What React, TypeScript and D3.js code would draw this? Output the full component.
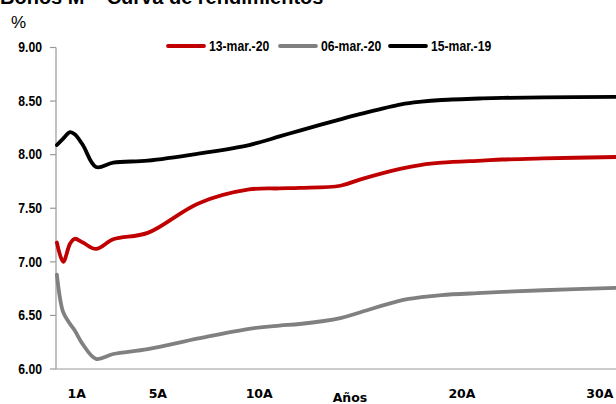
import React from "react";
import * as d3 from "d3";

// Maturities in years (x positions of the curve nodes)
const maturities = [0.02, 0.33, 0.67, 0.9, 1.3, 1.95, 2.8, 4.5, 7, 9.5, 11, 12, 14, 15, 17, 18, 19, 21, 22, 24, 27.6];

// Yields in %, one array per curve date
const mar13_20 = [7.18, 7.0, 7.17, 7.215, 7.18, 7.12, 7.21, 7.27, 7.545, 7.675, 7.685, 7.69, 7.71, 7.77, 7.87, 7.905, 7.925, 7.945, 7.955, 7.965, 7.978];
const mar06_20 = [6.88, 6.53, 6.42, 6.36, 6.23, 6.095, 6.14, 6.185, 6.285, 6.375, 6.405, 6.42, 6.475, 6.53, 6.64, 6.67, 6.69, 6.71, 6.72, 6.735, 6.757];
const mar15_19 = [8.09, 8.15, 8.21, 8.19, 8.09, 7.885, 7.925, 7.945, 8.01, 8.09, 8.17, 8.225, 8.33, 8.38, 8.47, 8.495, 8.51, 8.525, 8.53, 8.535, 8.54];

const seriesNames = ["13-mar.-20", "06-mar.-20", "15-mar.-19"];
const seriesColors = ["#c00000", "#808080", "#000000"];
const seriesValues = [mar13_20, mar06_20, mar15_19];

const yTicks = [6.0, 6.5, 7.0, 7.5, 8.0, 8.5, 9.0];
const xTickLabels = ["1A", "5A", "10A", "20A", "30A"];
const xTickAt = [1, 5, 10, 20, 26.8];

const W = 616;
const H = 404;
const left = 56;
const right = 616;
const top = 47.5;
const bottom = 369;

const sans = "'Liberation Sans', Arial, sans-serif";
const wide = "'DejaVu Sans', Verdana, sans-serif";
// horizontal squeeze giving the condensed look of the labels
const squeeze = 0.87;

export default function App() {
  const x = d3.scaleLinear().domain([0, 27.6]).range([left + 0.5, right]);
  const y = d3.scaleLinear().domain([6, 9]).range([bottom, top]);

  const line = d3
    .line<number>()
    .x((_, i) => x(maturities[i]))
    .y((v) => y(v))
    .curve(d3.curveCatmullRom.alpha(0.5));

  const legendX = [167, 279, 389];

  return (
    <svg
      width={W}
      height={H}
      style={{ position: "absolute", left: 0, top: 0, display: "block", background: "#fff" }}
    >
      <text x={0} y={4} fontFamily={sans} fontWeight="bold" fontSize={20} fill="#000">
        Bonos M – Curva de rendimientos
      </text>
      <text x={11} y={28} fontFamily={sans} fontSize={17} fill="#000">
        %
      </text>

      {/* y axis */}
      <line x1={left} x2={left} y1={top} y2={bottom} stroke="#999" strokeWidth={1.2} />
      {yTicks.map((t) => (
        <g key={t}>
          <line x1={left - 6} x2={left} y1={y(t)} y2={y(t)} stroke="#999" strokeWidth={1.2} />
          <text
            transform={`translate(42,${y(t) + 4.8}) scale(${squeeze},1)`}
            textAnchor="end"
            fontFamily={sans}
            fontWeight="bold"
            fontSize={14}
            fill="#000"
          >
            {t.toFixed(2)}
          </text>
        </g>
      ))}

      {/* x axis */}
      <line x1={left} x2={right} y1={bottom} y2={bottom} stroke="#999" strokeWidth={1.2} />
      {xTickLabels.map((lab, i) => (
        <text
          key={lab}
          x={x(xTickAt[i])}
          y={398}
          textAnchor="middle"
          fontFamily={wide}
          fontWeight="bold"
          fontSize={12.5}
          fill="#000"
        >
          {lab}
        </text>
      ))}
      <text x={350} y={402} textAnchor="middle" fontFamily={wide} fontWeight="bold" fontSize={12.5} fill="#000">
        Años
      </text>

      {/* curves */}
      {seriesValues.map((vals, i) => (
        <path
          key={seriesNames[i]}
          d={line(vals) || ""}
          fill="none"
          stroke={seriesColors[i]}
          strokeWidth={3.8}
          strokeLinejoin="round"
          strokeLinecap="round"
        />
      ))}

      {/* legend */}
      {seriesNames.map((name, i) => (
        <g key={name}>
          <line
            x1={legendX[i] + 1}
            x2={legendX[i] + 37}
            y1={46}
            y2={46}
            stroke={seriesColors[i]}
            strokeWidth={3.8}
            strokeLinecap="round"
          />
          <text
            transform={`translate(${legendX[i] + 42},50.5) scale(${squeeze},1)`}
            fontFamily={sans}
            fontWeight="bold"
            fontSize={14}
            fill="#000"
          >
            {name}
          </text>
        </g>
      ))}
    </svg>
  );
}
